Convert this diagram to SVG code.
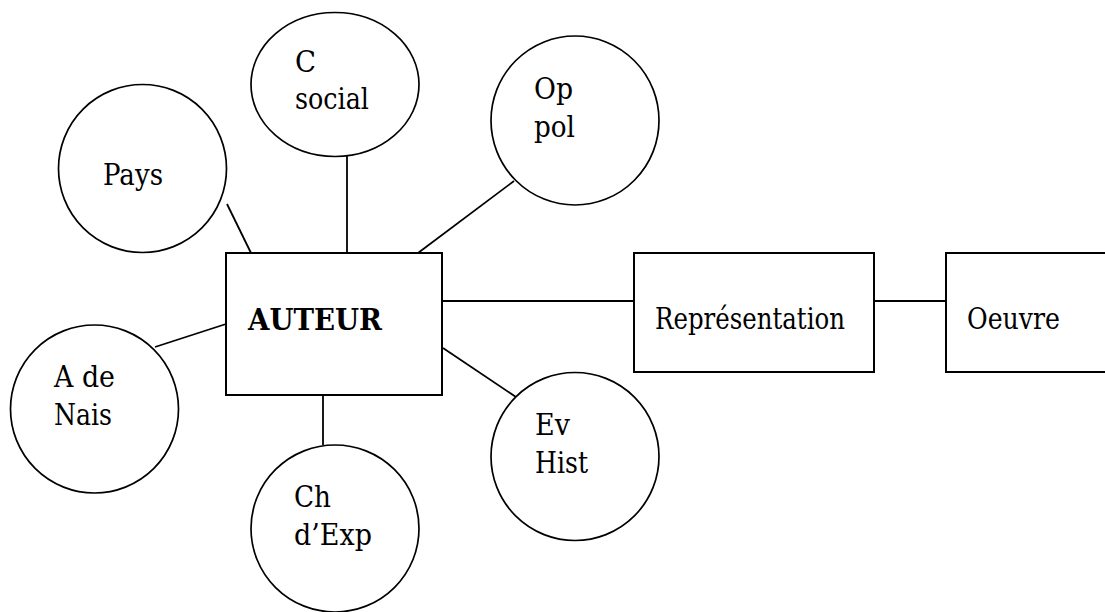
<svg xmlns="http://www.w3.org/2000/svg" width="1105" height="612" viewBox="0 0 1105 612">
<style>
.shape{fill:#fff;stroke:#000;stroke-width:1.7}
.box{fill:#fff;stroke:#000;stroke-width:2}
.conn line{stroke:#000;stroke-width:1.8}
.b{font-weight:bold}
</style>
<rect width="1105" height="612" fill="#fff"/>
<g class="conn" id="connectors">
<line x1="227" y1="204" x2="251" y2="253"/>
<line x1="347" y1="156" x2="347" y2="253"/>
<line x1="514" y1="181" x2="418" y2="253"/>
<line x1="155" y1="347" x2="226" y2="324"/>
<line x1="323" y1="395" x2="323" y2="445"/>
<line x1="443" y1="348" x2="516" y2="397"/>
<line x1="442" y1="301" x2="634" y2="301"/>
<line x1="874" y1="301" x2="946" y2="301"/>
</g>
<g font-family="'DejaVu Serif', serif" font-size="29" fill="#000">
<g id="pays">
<ellipse class="shape" cx="142.5" cy="168.5" rx="84" ry="84"/>
<text x="103" y="185" textLength="60" lengthAdjust="spacingAndGlyphs">Pays</text>
</g>
<g id="csocial">
<ellipse class="shape" cx="335" cy="84.5" rx="84" ry="72"/>
<text x="295" y="72" textLength="21" lengthAdjust="spacingAndGlyphs">C</text>
<text x="295" y="108.5" textLength="74" lengthAdjust="spacingAndGlyphs">social</text>
</g>
<g id="oppol">
<ellipse class="shape" cx="575" cy="120.5" rx="84" ry="84.5"/>
<text x="534" y="99" textLength="39" lengthAdjust="spacingAndGlyphs">Op</text>
<text x="534" y="137" textLength="41" lengthAdjust="spacingAndGlyphs">pol</text>
</g>
<g id="auteur">
<rect class="box" x="226" y="253" width="216" height="142"/>
<text class="b" x="248" y="330" textLength="134" lengthAdjust="spacingAndGlyphs">AUTEUR</text>
</g>
<g id="representation">
<rect class="box" x="634" y="253" width="240" height="119"/>
<text x="655" y="329" textLength="190" lengthAdjust="spacingAndGlyphs">Représentation</text>
</g>
<g id="oeuvre">
<rect class="box" x="946" y="253" width="170" height="119"/>
<text x="967" y="329" textLength="93" lengthAdjust="spacingAndGlyphs">Oeuvre</text>
</g>
<g id="adenais">
<ellipse class="shape" cx="94.5" cy="409" rx="84" ry="84"/>
<text x="54" y="387" textLength="61" lengthAdjust="spacingAndGlyphs">A de</text>
<text x="54" y="425" textLength="58" lengthAdjust="spacingAndGlyphs">Nais</text>
</g>
<g id="chdexp">
<ellipse class="shape" cx="335" cy="528.5" rx="84" ry="83.5"/>
<text x="294" y="507" textLength="37" lengthAdjust="spacingAndGlyphs">Ch</text>
<text x="294" y="545" textLength="78" lengthAdjust="spacingAndGlyphs">d’Exp</text>
</g>
<g id="evhist">
<ellipse class="shape" cx="575" cy="456.5" rx="84" ry="84"/>
<text x="535" y="435" textLength="35" lengthAdjust="spacingAndGlyphs">Ev</text>
<text x="535" y="473" textLength="53" lengthAdjust="spacingAndGlyphs">Hist</text>
</g>
</g>
</svg>
